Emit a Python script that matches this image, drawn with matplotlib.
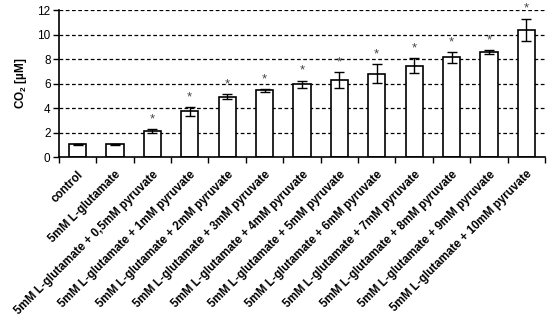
import matplotlib
matplotlib.use("Agg")
import matplotlib.pyplot as plt
import numpy as np

categories = ["control", "5mM L-glutamate",
              "5mM L-glutamate + 0,5mM pyruvate",
              "5mM L-glutamate + 1mM pyruvate",
              "5mM L-glutamate + 2mM pyruvate",
              "5mM L-glutamate + 3mM pyruvate",
              "5mM L-glutamate + 4mM pyruvate",
              "5mM L-glutamate + 5mM pyruvate",
              "5mM L-glutamate + 6mM pyruvate",
              "5mM L-glutamate + 7mM pyruvate",
              "5mM L-glutamate + 8mM pyruvate",
              "5mM L-glutamate + 9mM pyruvate",
              "5mM L-glutamate + 10mM pyruvate"]
values = [1.08, 1.08, 2.15, 3.75, 4.93, 5.47, 5.95, 6.3, 6.82, 7.45, 8.15, 8.6, 10.4]
errors = [0.04, 0.04, 0.15, 0.35, 0.2, 0.12, 0.3, 0.62, 0.78, 0.6, 0.43, 0.15, 0.9]
significant = [False, False, True, True, True, True, True, True, True, True, True, True, True]
yticks = [0, 2, 4, 6, 8, 10, 12]

plt.rcParams['font.family'] = ['Liberation Sans', 'DejaVu Sans']
plt.rcParams['mathtext.fontset'] = 'custom'
plt.rcParams['mathtext.bf'] = 'Liberation Sans:bold'
plt.rcParams['mathtext.rm'] = 'Liberation Sans'

fig = plt.figure(figsize=(5.5, 3.23), dpi=100)
ax = fig.add_axes([0.107, 0.513, 0.884, 0.456])

x = np.arange(len(categories))
ax.set_axisbelow(True)
for yv in yticks[1:]:
    ax.axhline(yv, color='black', linestyle=(0, (3, 2)), linewidth=0.9, zorder=0)
ax.bar(x, values, width=0.46, color='white', edgecolor='black', linewidth=1.2, zorder=2,
       yerr=errors, error_kw=dict(ecolor='black', elinewidth=1.0, capsize=3.5, capthick=1.0, zorder=3))
for xi, v, e, s in zip(x, values, errors, significant):
    if s:
        ax.text(xi, v + e + 0.3, '*', ha='center', va='bottom', fontsize=9.5, color='#444444')

ax.set_xlim(-0.5, len(categories) - 0.5)
ax.set_ylim(0, 12)
ax.set_yticks(yticks)
ax.set_yticklabels([str(t) for t in yticks], fontsize=8.5)
ax.set_xticks(x)
ax.set_xticklabels(categories, rotation=45, ha='right', rotation_mode='anchor',
                   fontsize=8.4, fontweight='bold')
ax.set_xticks(np.arange(-0.5, len(categories), 1.0), minor=True)
ax.tick_params(axis='x', which='major', length=0, pad=8)
ax.tick_params(axis='x', which='minor', length=4, width=1, direction='out')
ax.tick_params(axis='y', length=4, width=1, direction='out', pad=2)
for sp in ['top', 'right']:
    ax.spines[sp].set_visible(False)
for sp in ['left', 'bottom']:
    ax.spines[sp].set_linewidth(1.2)
ax.set_ylabel(r'$\mathbf{CO_2}$ [µM]', fontsize=8.5, fontweight='bold', labelpad=6)

fig.savefig('out.png', dpi=100)
